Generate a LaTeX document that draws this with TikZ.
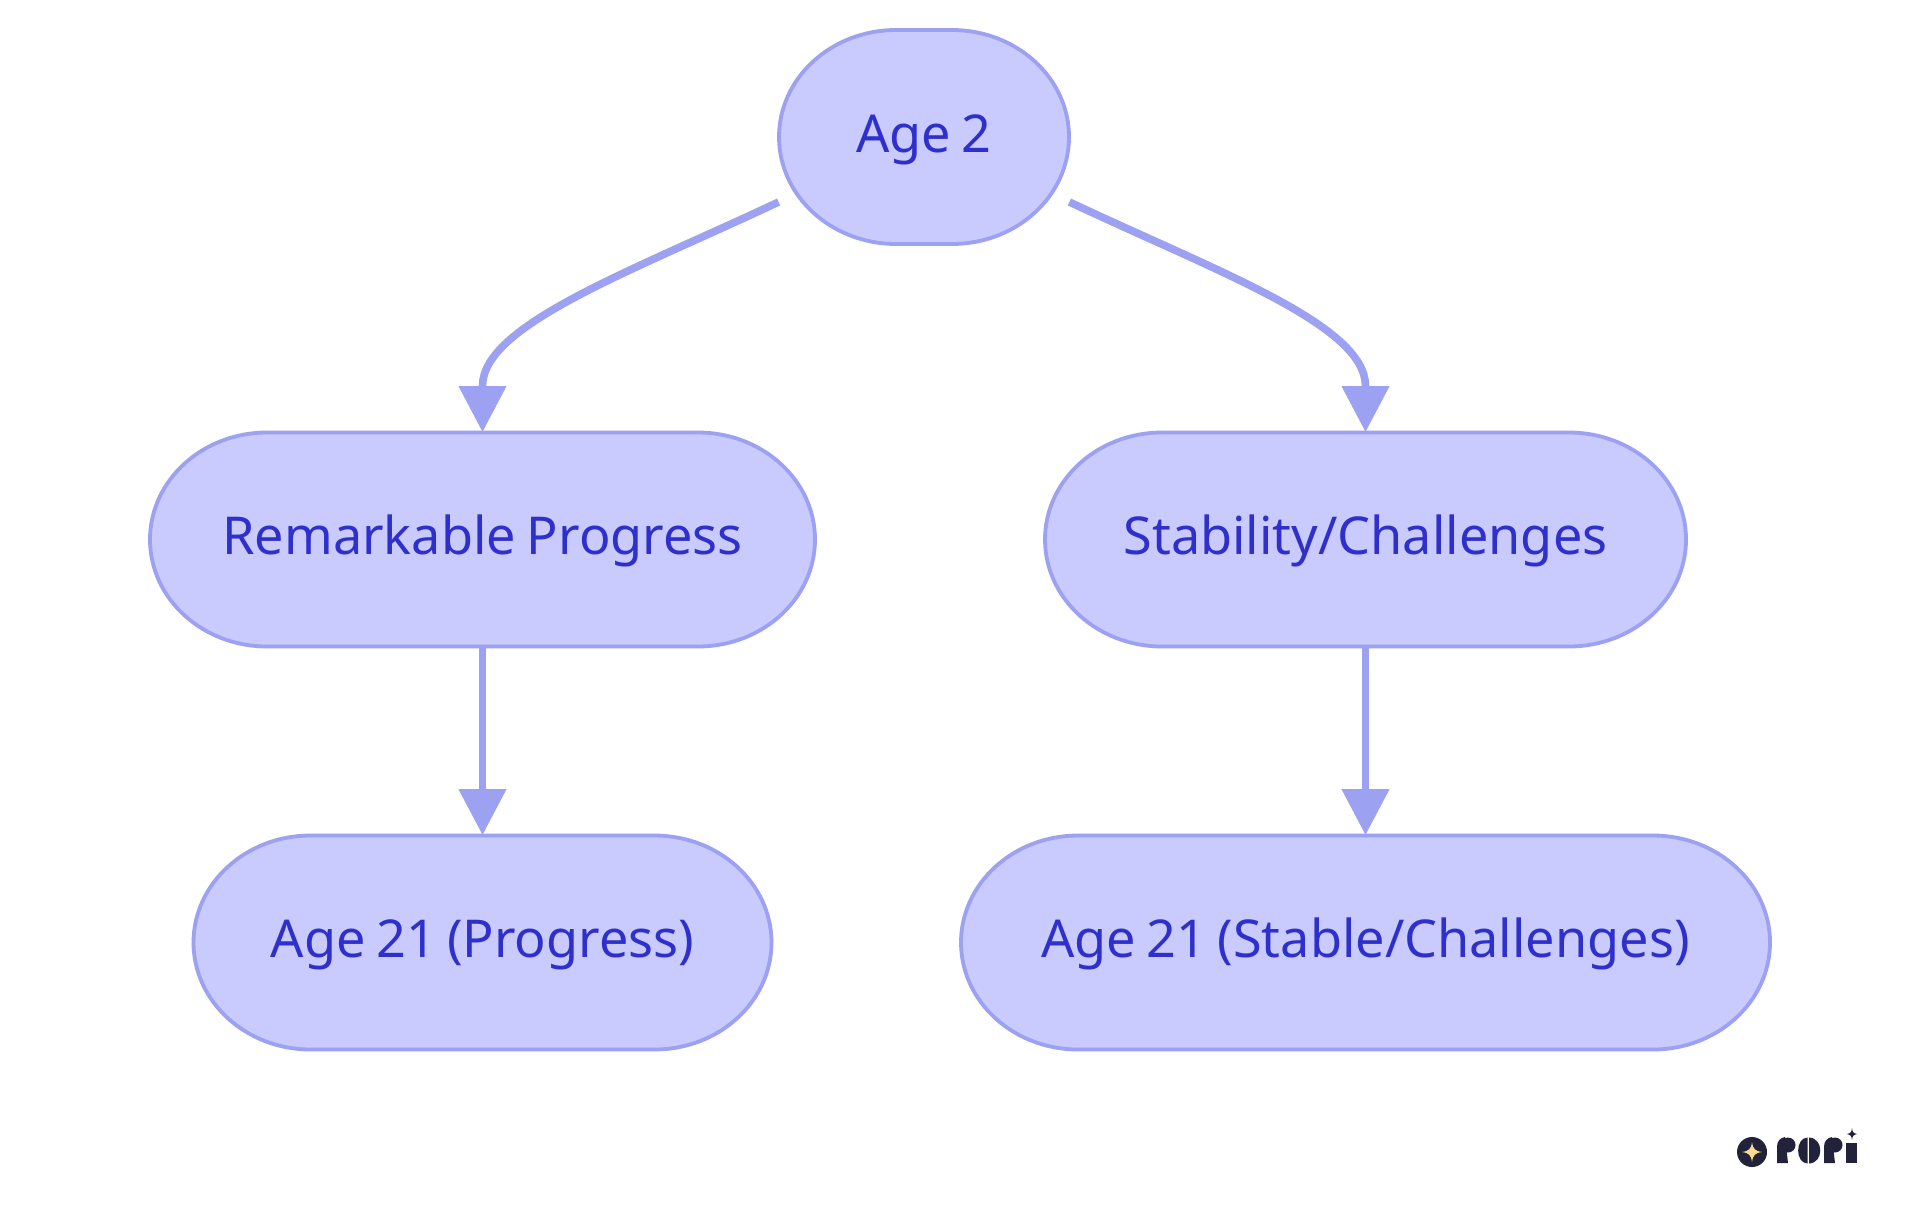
\documentclass[tikz,border=0pt]{standalone}
\usepackage{fontspec}
\setmainfont[WordSpace=0.8]{Noto Sans}
\usetikzlibrary{arrows.meta,calc}
\definecolor{pillfill}{HTML}{C9CAFD}
\definecolor{pillline}{HTML}{9CA1F2}
\definecolor{pilltext}{HTML}{2F30CB}
\definecolor{logodark}{HTML}{22223A}
\definecolor{logostar}{HTML}{FBDC8E}
\tikzset{
  pillshape/.style={draw=pillline,fill=pillfill,line width=1.9pt},
  pilllabel/.style={inner sep=0pt,text=pilltext,font=\fontsize{26.1pt}{30pt}\selectfont,text height=20pt,text depth=5pt},
  flowedge/.style={draw=pillline,line width=3.8pt,-{Triangle[length=23pt,width=23pt]}},
  logoshape/.style={fill=logodark,draw=none}
}
\newcommand{\pillbox}[5]{%
  \path[pillshape] (#2-#4/2+117,#3-107) -- (#2+#4/2-117,#3-107)
    .. controls (#2+#4/2-52.4,#3-107) and (#2+#4/2,#3-59.1) .. (#2+#4/2,#3)
    .. controls (#2+#4/2,#3+59.1) and (#2+#4/2-52.4,#3+107) .. (#2+#4/2-117,#3+107)
    -- (#2-#4/2+117,#3+107)
    .. controls (#2-#4/2+52.4,#3+107) and (#2-#4/2,#3+59.1) .. (#2-#4/2,#3)
    .. controls (#2-#4/2,#3-59.1) and (#2-#4/2+52.4,#3-107) .. (#2-#4/2+117,#3-107) -- cycle;
  \node[pilllabel,minimum width=#4*0.5pt,minimum height=107pt] (#1) at (#2,#3) {#5};
}
\begin{document}
\begin{tikzpicture}[x=0.5pt,y=-0.5pt]
\path[use as bounding box,fill=white] (0,0) rectangle (1920,1215);
\pillbox{age}{924}{137}{290}{Age 2}
\pillbox{prog}{482.5}{539.5}{665}{Remarkable Progress}
\pillbox{stab}{1365.5}{539.5}{641}{Stability/Challenges}
\pillbox{ageprog}{482.5}{942.5}{578}{Age 21 (Progress)}
\pillbox{agestab}{1365.5}{942.5}{809}{Age 21 (Stable/Challenges)}
\draw[flowedge] ($(age.west)+(0,65)$) .. controls (630,272) and (482.5,325) .. ($(prog.north)+(0,-46)$) -- (prog.north);
\draw[flowedge] ($(age.east)+(0,65)$) .. controls (1218,272) and (1365.5,325) .. ($(stab.north)+(0,-46)$) -- (stab.north);
\draw[flowedge] (prog.south) -- (ageprog.north);
\draw[flowedge] (stab.south) -- (agestab.north);
% logo
\fill[logoshape] (1752,1152) circle[radius=15];
\fill[logostar] (1752,1142) .. controls (1753,1149) and (1755,1151) .. (1762,1152)
  .. controls (1755,1153) and (1753,1155) .. (1752,1162)
  .. controls (1751,1155) and (1749,1153) .. (1742,1152)
  .. controls (1749,1151) and (1751,1149) .. (1752,1142) -- cycle;
\fill[logoshape] (1777,1163) -- (1777,1147) .. controls (1777,1141) and (1780,1138) .. (1785,1137) -- (1788,1163) -- cycle;
\fill[logoshape] (1788,1145) circle[radius=7.5];
\fill[logoshape] (1807.5,1137.5) .. controls (1795,1138) and (1795,1163) .. (1807.5,1163.5) -- cycle;
\fill[logoshape] (1809,1137.5) .. controls (1824,1138) and (1824,1163) .. (1809,1163.5) -- cycle;
\fill[logoshape] (1824,1163) -- (1824,1147) .. controls (1824,1141) and (1827,1138) .. (1832,1137) -- (1835,1163) -- cycle;
\fill[logoshape] (1835,1145) circle[radius=7.5];
\fill[logoshape] (1846,1143) rectangle (1857,1163);
\fill[logoshape] (1852,1128) .. controls (1852.5,1132) and (1853,1133) .. (1857,1134)
  .. controls (1853,1135) and (1852.5,1136) .. (1852,1140)
  .. controls (1851.5,1136) and (1851,1135) .. (1847,1134)
  .. controls (1851,1133) and (1851.5,1132) .. (1852,1128) -- cycle;
\end{tikzpicture}
\end{document}
